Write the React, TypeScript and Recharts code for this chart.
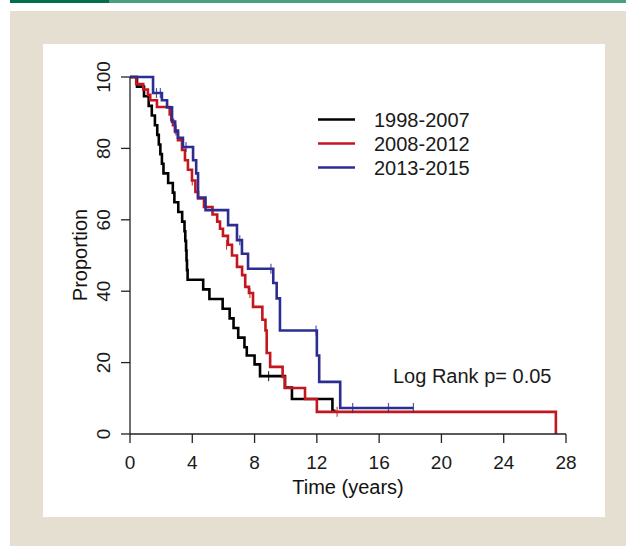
import React from "react"
import { ComposedChart, Line, Scatter, XAxis, YAxis, Customized } from "recharts"

const FONT = "'Liberation Sans', Arial, sans-serif"

const xTicks = [0, 4, 8, 12, 16, 20, 24, 28]
const yTicks = [0, 20, 40, 60, 80, 100]

const groups = ["1998-2007", "2008-2012", "2013-2015"]
const colors = ["#000000", "#c3161d", "#2b2e90"]

// Kaplan-Meier steps, t in years, p in %
const early = [
  { t: 0, p: 100 }, { t: 0.45, p: 97.3 }, { t: 0.9, p: 94.6 }, { t: 1.2, p: 91.9 },
  { t: 1.4, p: 89.2 }, { t: 1.6, p: 86.5 }, { t: 1.75, p: 83.8 }, { t: 1.85, p: 81.1 },
  { t: 1.95, p: 78.4 }, { t: 2.05, p: 75.7 }, { t: 2.15, p: 73 }, { t: 2.45, p: 70.3 },
  { t: 2.75, p: 67.6 }, { t: 2.85, p: 64.9 }, { t: 3.1, p: 62.2 }, { t: 3.35, p: 59.5 },
  { t: 3.5, p: 56.8 }, { t: 3.55, p: 54.1 }, { t: 3.6, p: 51.4 }, { t: 3.63, p: 48.6 },
  { t: 3.66, p: 45.9 }, { t: 3.7, p: 43.2 }, { t: 4.7, p: 40.5 }, { t: 5.1, p: 37.8 },
  { t: 5.95, p: 35.1 }, { t: 6.4, p: 32.4 }, { t: 6.65, p: 29.7 }, { t: 6.95, p: 27 },
  { t: 7.35, p: 24.3 }, { t: 7.5, p: 22 }, { t: 8.0, p: 19.5 }, { t: 8.35, p: 16.2 },
  { t: 9.95, p: 13 }, { t: 10.4, p: 9.8 }, { t: 13.0, p: 6.5 }, { t: 13.2, p: 6.5 },
]
const middle = [
  { t: 0, p: 100 }, { t: 0.4, p: 98 }, { t: 0.85, p: 96.5 }, { t: 1.15, p: 95 },
  { t: 1.3, p: 93.5 }, { t: 1.73, p: 91.6 }, { t: 2.55, p: 89.5 }, { t: 2.65, p: 88 },
  { t: 2.76, p: 86.5 }, { t: 2.89, p: 84.6 }, { t: 3.08, p: 82.3 }, { t: 3.34, p: 79.6 },
  { t: 3.53, p: 76.7 }, { t: 3.72, p: 74 }, { t: 3.98, p: 71 }, { t: 4.2, p: 67.8 },
  { t: 4.37, p: 66 }, { t: 4.75, p: 63.6 }, { t: 5.3, p: 61.5 }, { t: 5.6, p: 59.5 },
  { t: 5.78, p: 57.5 }, { t: 5.97, p: 55.5 }, { t: 6.29, p: 53 }, { t: 6.55, p: 50 },
  { t: 6.87, p: 46.8 }, { t: 7.2, p: 44.5 }, { t: 7.4, p: 41.2 }, { t: 7.64, p: 39.5 },
  { t: 7.9, p: 35.6 }, { t: 8.5, p: 32 }, { t: 8.7, p: 29 }, { t: 8.78, p: 22.7 },
  { t: 9.0, p: 18.8 }, { t: 9.8, p: 16 }, { t: 9.95, p: 12.9 }, { t: 11.24, p: 9.8 },
  { t: 12.0, p: 6.2 }, { t: 27.35, p: 0 },
]
const recent = [
  { t: 0, p: 100 }, { t: 1.48, p: 95.5 }, { t: 2.05, p: 93.5 }, { t: 2.38, p: 91.5 },
  { t: 2.7, p: 87.5 }, { t: 2.9, p: 85 }, { t: 3.08, p: 83 }, { t: 3.4, p: 80.4 },
  { t: 4.05, p: 76.7 }, { t: 4.25, p: 73 }, { t: 4.37, p: 66.2 }, { t: 4.85, p: 62.7 },
  { t: 6.3, p: 58.5 }, { t: 6.87, p: 54.3 }, { t: 7.19, p: 50.5 }, { t: 7.58, p: 46.3 },
  { t: 9.2, p: 42.3 }, { t: 9.42, p: 38 }, { t: 9.63, p: 29 }, { t: 12.0, p: 22 },
  { t: 12.15, p: 14.6 }, { t: 13.5, p: 7.3 }, { t: 18.2, p: 7.3 },
]

// censored observations
const earlyCens = [{ t: 8.9, p: 16.2 }]
const middleCens = [{ t: 4.0, p: 71 }, { t: 6.2, p: 53 }, { t: 7.7, p: 39.5 }, { t: 13.3, p: 6.2 }]
const recentCens = [
  { t: 1.7, p: 95.5 }, { t: 1.95, p: 95.5 }, { t: 2.95, p: 85 }, { t: 3.6, p: 80.4 },
  { t: 7.05, p: 54.3 }, { t: 9.05, p: 46.3 }, { t: 11.95, p: 29 }, { t: 14.3, p: 7.3 },
  { t: 16.6, p: 7.3 }, { t: 18.2, p: 7.3 },
]

const series = [
  { name: groups[0], data: early, cens: earlyCens, color: colors[0] },
  { name: groups[1], data: middle, cens: middleCens, color: colors[1] },
  { name: groups[2], data: recent, cens: recentCens, color: colors[2] },
]

const XTick = ({ x, y, payload }: any) => (
  <text x={x} y={y + 26} textAnchor="middle" fontSize={19} fontFamily={FONT} fill="#1a1a1a">
    {payload.value}
  </text>
)

const YTick = ({ x, y, payload }: any) => (
  <text
    x={x - 11}
    y={y}
    transform={`rotate(-90 ${x - 11} ${y})`}
    textAnchor="middle"
    fontSize={19}
    fontFamily={FONT}
    fill="#1a1a1a"
  >
    {payload.value}
  </text>
)

const censorMark = (color: string) => (props: any) => (
  <line x1={props.cx} x2={props.cx} y1={props.cy - 5} y2={props.cy + 5} stroke={color} strokeWidth={1.2} strokeOpacity={0.8} />
)

const Notes = () => (
  <g fontFamily={FONT} fill="#111">
    <text x={87} y={255} transform="rotate(-90 87 255)" textAnchor="middle" fontSize={20}>Proportion</text>
    <text x={348} y={494} textAnchor="middle" fontSize={20}>Time (years)</text>
    {series.map((s, i) => (
      <g key={s.name}>
        <line x1={318} x2={355} y1={119.5 + i * 24} y2={119.5 + i * 24} stroke={s.color} strokeWidth={2.6} />
        <text x={374} y={127 + i * 24} fontSize={20} fill="#1a1a1a">{s.name}</text>
      </g>
    ))}
    <text x={393} y={383} fontSize={20} fill="#1a1a1a">Log Rank p= 0.05</text>
  </g>
)

export default function App() {
  return (
    <div style={{ position: "absolute", left: 0, top: 0, width: 626, height: 546, background: "#fff", fontFamily: FONT }}>
      <div style={{ position: "absolute", left: 10, top: 0, width: 99, height: 3, background: "#00704a" }} />
      <div style={{ position: "absolute", left: 109, top: 0, width: 517, height: 3, background: "#4b9e80" }} />
      <div style={{ position: "absolute", left: 10, top: 11, width: 616, height: 535, background: "#e5dfd1" }} />
      <div style={{ position: "absolute", left: 43, top: 44, width: 562, height: 473, background: "#fff" }} />
      <div style={{ position: "absolute", left: 0, top: 0 }}>
        <ComposedChart width={626} height={546} margin={{ top: 77, right: 60, bottom: 72, left: 80 }}>
          <XAxis
            type="number"
            dataKey="t"
            domain={[0, 28]}
            ticks={xTicks}
            height={40}
            tickSize={9}
            tickMargin={0}
            tick={<XTick />}
            axisLine={{ stroke: "#222", strokeWidth: 1.3 }}
            tickLine={{ stroke: "#222", strokeWidth: 1.3 }}
          />
          <YAxis
            type="number"
            domain={[0, 100]}
            ticks={yTicks}
            width={50}
            tickSize={9}
            tickMargin={0}
            tick={<YTick />}
            axisLine={{ stroke: "#222", strokeWidth: 1.3 }}
            tickLine={{ stroke: "#222", strokeWidth: 1.3 }}
          />
          {series.map(s => (
            <Line
              key={s.name}
              data={s.data}
              dataKey="p"
              type="stepAfter"
              stroke={s.color}
              strokeWidth={2.6}
              dot={false}
              isAnimationActive={false}
            />
          ))}
          {series.map(s => (
            <Scatter
              key={s.name + "-c"}
              data={s.cens}
              dataKey="p"
              shape={censorMark(s.color)}
              isAnimationActive={false}
            />
          ))}
          <Customized component={Notes} />
        </ComposedChart>
      </div>
    </div>
  )
}
